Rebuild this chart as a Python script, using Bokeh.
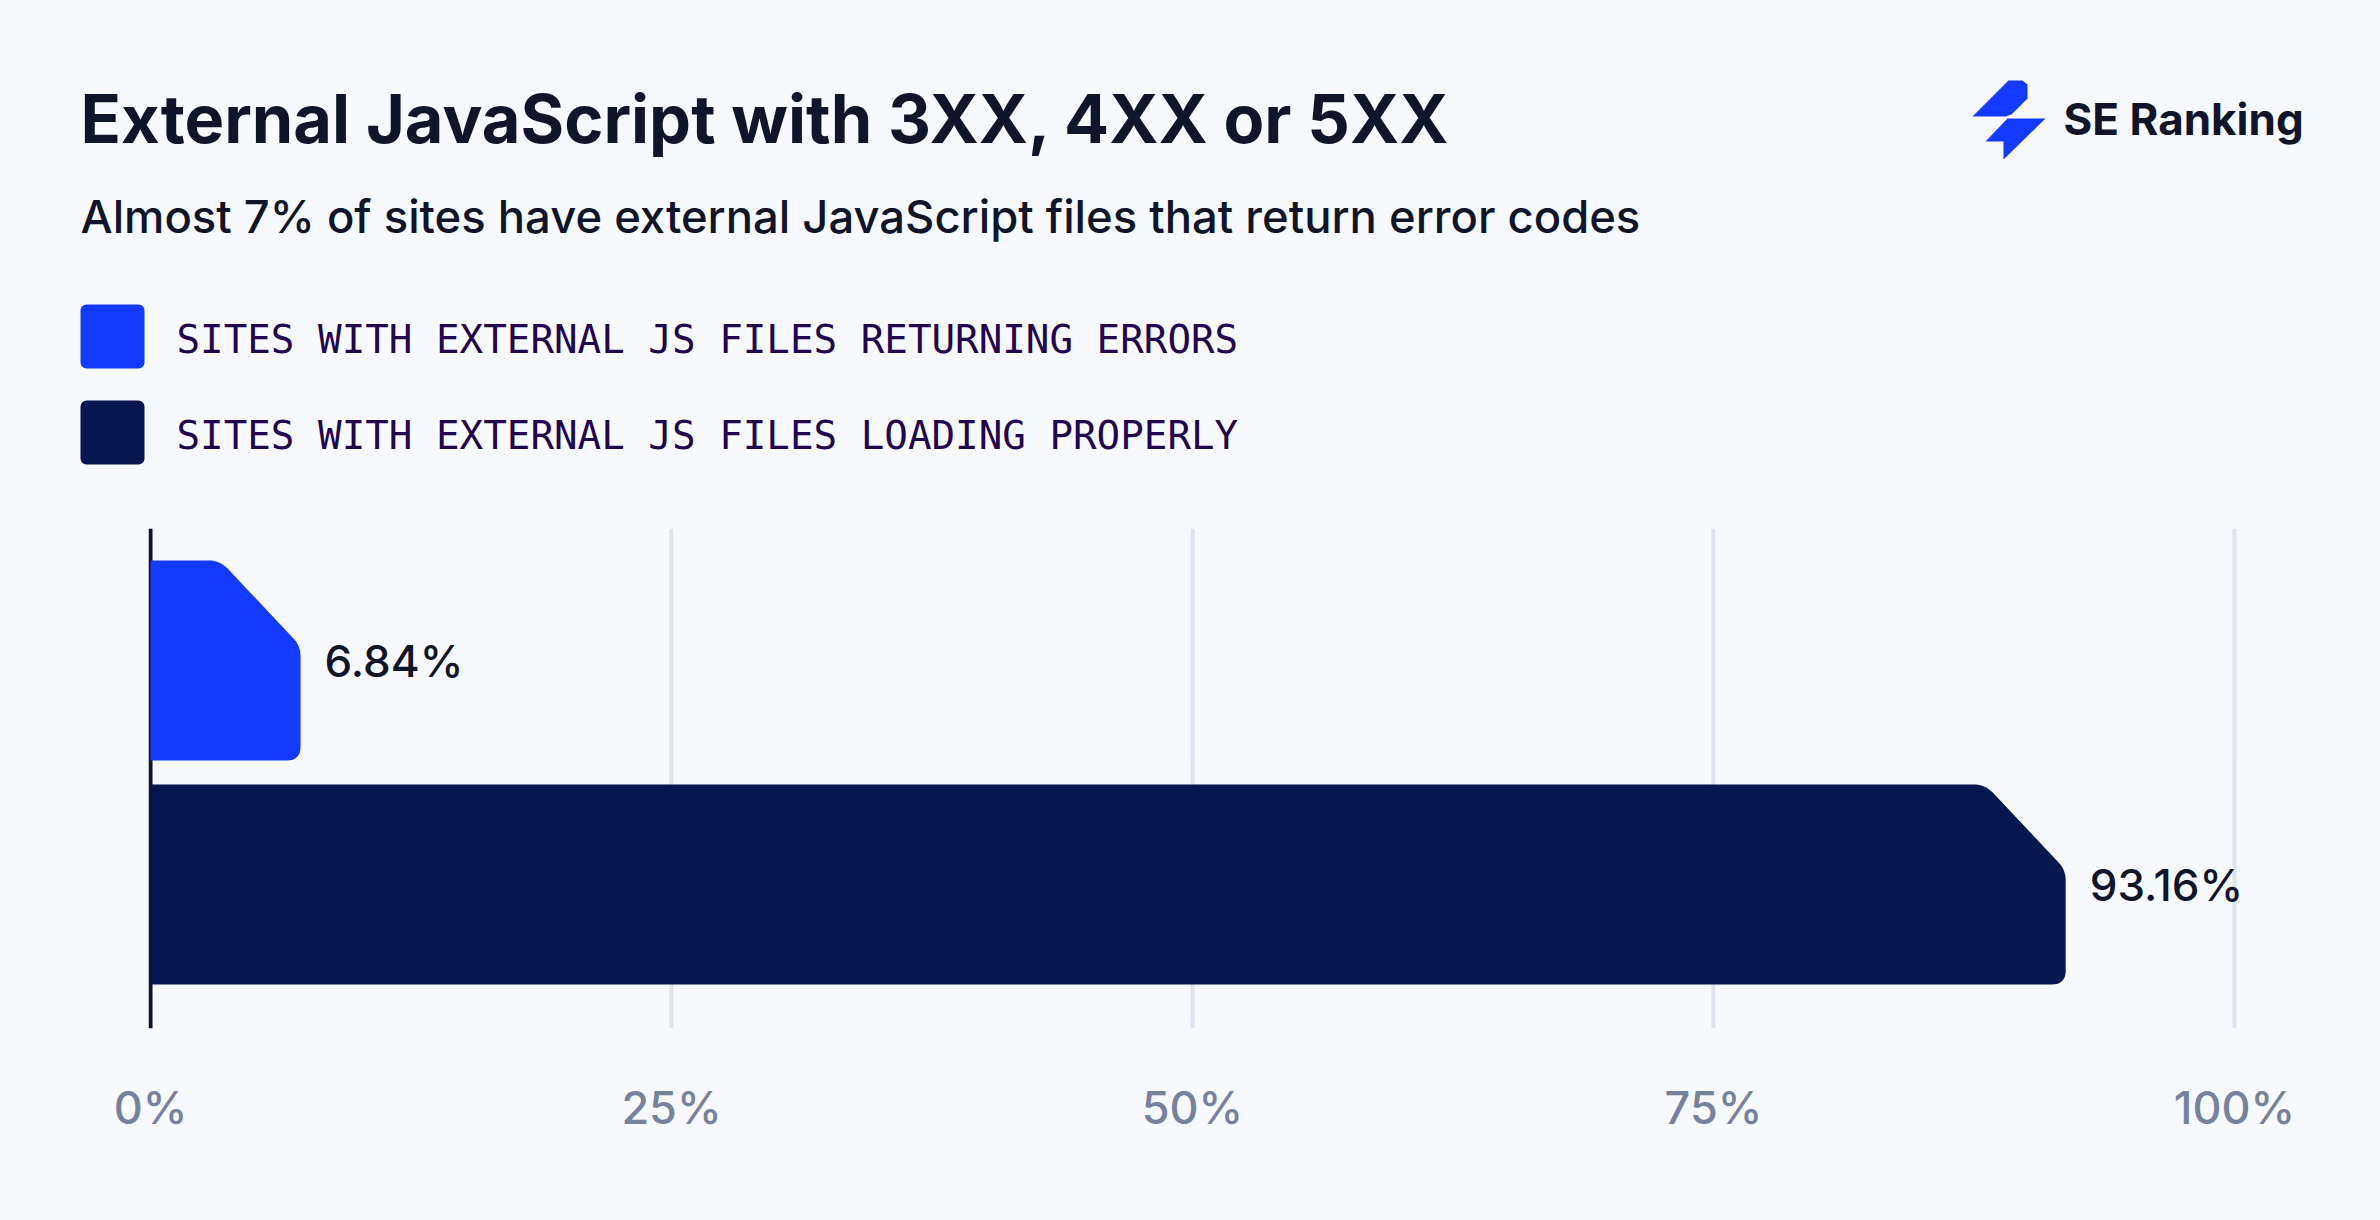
from bokeh.core.properties import value
from bokeh.embed import file_html
from bokeh.layouts import column
from bokeh.resources import INLINE
from bokeh.plotting import figure
from bokeh.models import (BoxAnnotation, ColumnDataSource, FixedTicker, Label, LabelSet,
                          PolyAnnotation, Range1d, Span)

# ---- data -------------------------------------------------------------
title_text = "External JavaScript with 3XX, 4XX or 5XX"
subtitle_text = "Almost 7% of sites have external JavaScript files that return error codes"
brand_text = "SE Ranking"
categories = ["SITES WITH EXTERNAL JS FILES RETURNING ERRORS",
              "SITES WITH EXTERNAL JS FILES LOADING PROPERLY"]
value_labels = ["6.84%", "93.16%"]
# drawn bar lengths as read against the axis of the picture
bar_lengths = [7.2, 91.9]
tick_values = [0, 25, 50, 75, 100]
tick_labels = ["0%", "25%", "50%", "75%", "100%"]
bar_colors = ["#153AFF", "#06174F"]

# ---- layout -----------------------------------------------------------
BG = "#F7F9FD"
W = 2380
HEAD_H = 528
LEFT, PW100, PH, BOTTOM = 148, 2084, 500, 192
ZERO_PAD = 2
CHAMFER_X, CHAMFER_Y, R_SMALL, R_BIG = 81, 85, 11, 14
PX_PER_ROW = 224
BAR_PX = 200
y_top = -132 / PX_PER_ROW
y_bottom = (PH - 132) / PX_PER_ROW
MEDIUM = "Inter Medium"
INK = "#11152A"


def corner(p0, c, p1, n=8):
    return [((1 - t) ** 2 * p0[0] + 2 * t * (1 - t) * c[0] + t ** 2 * p1[0],
             (1 - t) ** 2 * p0[1] + 2 * t * (1 - t) * c[1] + t ** 2 * p1[1])
            for t in (i / n for i in range(n + 1))]


def bar_shape(length, row):
    ux = 100 / PW100
    uy = 1 / PX_PER_ROW
    top = row - BAR_PX / 2 * uy
    bot = row + BAR_PX / 2 * uy
    cx, cy = CHAMFER_X * ux, CHAMFER_Y * uy
    xa, ya = length - cx, top
    xb, yb = length, top + cy
    lx = 0.7071
    pts = [(0, top)]
    pts += corner((xa - R_SMALL * ux, ya), (xa, ya), (xa + R_SMALL * lx * ux, ya + R_SMALL * lx * uy))
    pts += corner((xb - R_SMALL * lx * ux, yb - R_SMALL * lx * uy), (xb, yb), (xb, yb + R_SMALL * uy))
    pts += corner((length, bot - R_BIG * uy), (length, bot), (length - R_BIG * ux, bot))
    pts += [(0, bot)]
    return [q[0] for q in pts], [q[1] for q in pts]


# ---- header: title, subtitle, brand, legend ----------------------------
head = figure(width=W, height=HEAD_H, output_backend="svg", toolbar_location=None,
              x_range=Range1d(0, W), y_range=Range1d(HEAD_H, 0),
              x_axis_location=None, y_axis_location=None, frame_align=False,
              min_border=0, background_fill_color=BG, border_fill_color=BG, outline_line_color=None)
head.grid.visible = False


def text(t, x, y, size, font, color, style="normal"):
    head.add_layout(Label(x=x, y=y, text=t, text_baseline="middle", text_font=font,
                          text_font_size=size, text_color=color, text_font_style=style))


for c, color, top in zip(categories, bar_colors, (304, 400)):
    head.add_layout(BoxAnnotation(left=80, right=144, top=top, bottom=top + 64,
                                  fill_color=color, fill_alpha=1, line_color=None, border_radius=6))
    text(c, 176, top + 35, "39.2px", "DejaVu Sans Mono", "#22064F")

text(title_text, 80, 118, "66.7px", "Inter", INK, "bold")
text(subtitle_text, 80, 216, "45.4px", MEDIUM, INK)
text(brand_text, 2063, 118, "44px", "Inter", INK, "bold")

for pts in ([(1972, 116), (2008, 80), (2022, 80), (2027, 84), (2027, 98), (2011, 114), (2005, 116)],
            [(1985, 141), (2007, 118), (2045, 118), (2003, 159), (2003, 141)]):
    head.add_layout(PolyAnnotation(xs=[q[0] for q in pts], ys=[q[1] for q in pts],
                                   fill_color=bar_colors[0], fill_alpha=1, line_color=None))

# ---- chart -------------------------------------------------------------
x_start = -ZERO_PAD * 100 / PW100
x_end = 100 * (W - LEFT - ZERO_PAD) / PW100
p = figure(width=W, height=PH + BOTTOM, output_backend="svg", toolbar_location=None,
           x_range=Range1d(x_start, x_end), y_range=Range1d(y_bottom, y_top), frame_align=False,
           min_border_left=LEFT, min_border_right=0, min_border_top=0, min_border_bottom=BOTTOM,
           background_fill_color=BG, border_fill_color=BG, outline_line_color=None)

p.xgrid.ticker = FixedTicker(ticks=tick_values)
p.xgrid.grid_line_color = "#DFE3EE"
p.xgrid.grid_line_width = 4
p.ygrid.visible = False
xa = p.xaxis[0]
xa.ticker = FixedTicker(ticks=tick_values)
xa.major_label_overrides = dict(zip(tick_values, tick_labels))
xa.axis_line_color = None
xa.major_tick_line_color = None
xa.minor_tick_line_color = None
xa.major_label_standoff = 45
xa.major_label_text_font = MEDIUM
xa.major_label_text_font_size = "45px"
xa.major_label_text_color = "#78829D"
p.yaxis.visible = False
p.add_layout(Span(location=tick_values[0], dimension="height", line_color=INK, line_width=4, level="underlay"))

for i, (length, color) in enumerate(zip(bar_lengths, bar_colors)):
    xs, ys = bar_shape(length, i)
    p.patches([xs], [ys], fill_color=color, line_color=None)

src = ColumnDataSource(dict(x=bar_lengths, y=list(range(len(bar_lengths))), t=value_labels))
p.add_layout(LabelSet(x="x", y="y", text="t", source=src, x_offset=24, y_offset=0,
                      text_baseline="middle", text_font=value(MEDIUM), text_font_size=value("44px"),
                      text_color=INK))

page = column(head, p, spacing=0)
html = file_html(page, INLINE)
html = html.replace("<head>", "<head><style>html,body{background:%s;overflow:hidden}</style>" % BG, 1)
open("out.html", "w").write(html)
